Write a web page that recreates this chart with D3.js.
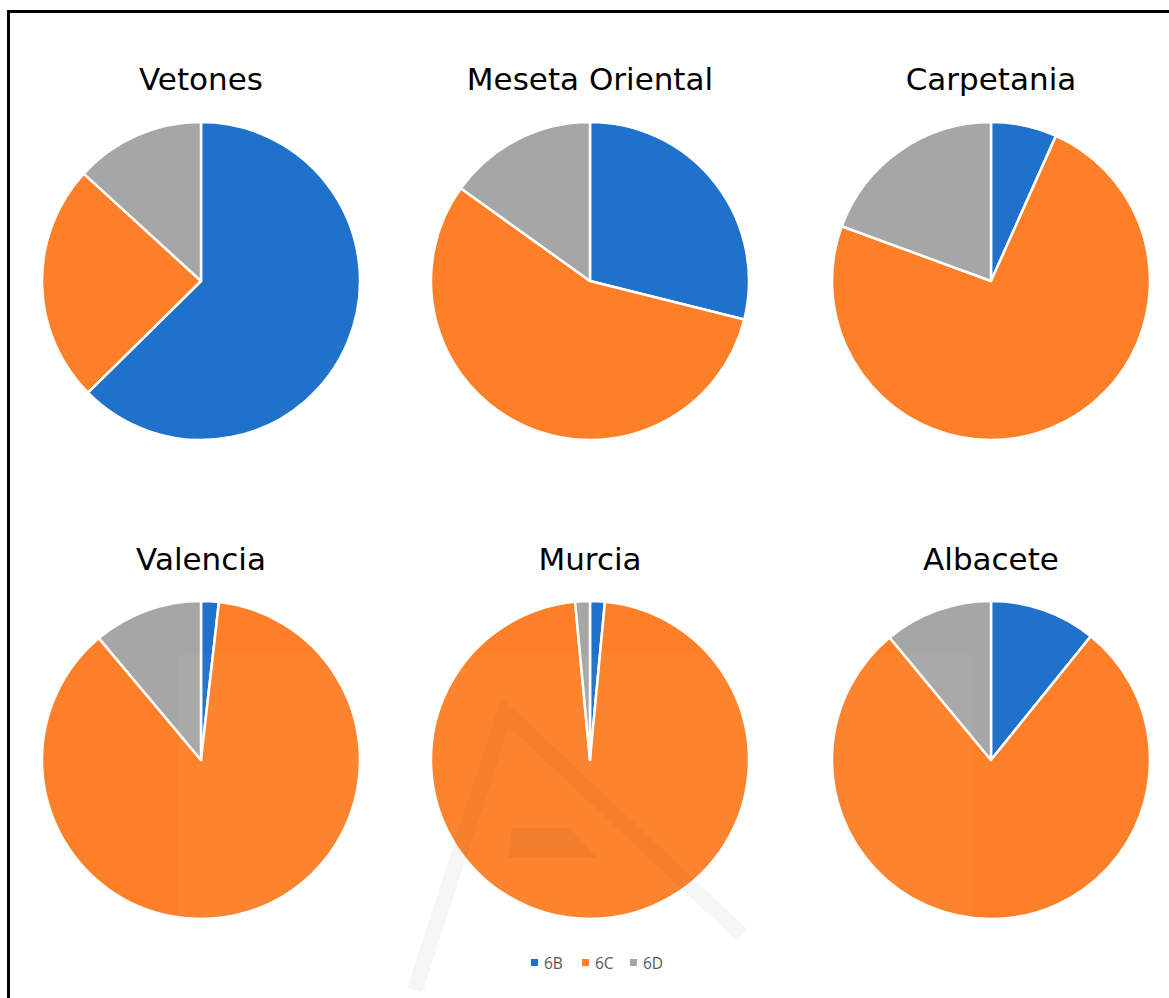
<!DOCTYPE html>
<html>
<head>
<meta charset="utf-8">
<script src="https://cdn.jsdelivr.net/npm/d3@7"></script>
<style>
    body { margin: 0; background: #fff; }
    svg { display: block; }
</style>
</head>
<body>
<div id="chart"></div>
<script>
'use strict';

// data (share of each type, %)
var regions = ['Vetones', 'Meseta Oriental', 'Carpetania', 'Valencia', 'Murcia', 'Albacete'];
var series  = ['6B', '6C', '6D'];
var v6B = [62.6, 28.9,  6.7,  1.8,  1.5, 10.8];
var v6C = [24.2, 56.0, 73.9, 87.1, 97.0, 78.2];
var v6D = [13.2, 15.1, 19.4, 11.1,  1.5, 11.0];

var colors = ['#1f71c9', '#fd7f27', '#a6a6a6'];

function pieCharts()
{
    var scope = this;
    var exports = {};

    scope.w = 1169;
    scope.h = 998;
    scope.radius = 159;
    scope.colX = [201, 590, 991];
    scope.rowY = [281, 760];
    scope.titleY = [90, 570];
    scope.cScale = d3.scaleOrdinal().domain(series).range(colors);

    scope.appendSvg = function(div)
    {
        return d3.select(div).append('svg')
            .attr('width', scope.w)
            .attr('height', scope.h);
    }

    scope.appendPie = function(svg, i)
    {
        var col = i % 3, row = Math.floor(i / 3);
        var vals = [v6B[i], v6C[i], v6D[i]];
        var rows = series.map(function(s, k){ return {key: s, value: vals[k]}; });

        var pie = d3.pie().sort(null).value(function(d){ return d.value; });
        var arc = d3.arc().innerRadius(0).outerRadius(scope.radius);

        var g = svg.append('g')
            .attr('transform', 'translate(' + scope.colX[col] + ',' + scope.rowY[row] + ')');

        g.selectAll('path')
            .data(pie(rows))
            .enter()
            .append('path')
            .attr('d', arc)
            .style('fill', function(d){ return scope.cScale(d.data.key); })
            .style('stroke', '#fff')
            .style('stroke-width', 2.5)
            .style('stroke-linejoin', 'round');

        svg.append('text')
            .attr('x', scope.colX[col])
            .attr('y', scope.titleY[row])
            .attr('text-anchor', 'middle')
            .style('font-family', '"DejaVu Sans", Verdana, sans-serif')
            .style('font-size', '31px')
            .style('fill', '#000')
            .text(regions[i]);
    }

    scope.appendLegend = function(svg)
    {
        var xs = [531, 582, 630];
        var lg = svg.append('g').attr('class', 'legend');
        series.forEach(function(s, k){
            lg.append('rect')
                .attr('x', xs[k]).attr('y', 959)
                .attr('width', 7).attr('height', 7)
                .style('fill', scope.cScale(s));
            lg.append('text')
                .attr('x', xs[k] + 13).attr('y', 969)
                .style('font-family', '"Open Sans", "Noto Sans", sans-serif')
                .style('font-size', '15.5px')
                .style('fill', '#595959')
                .text(s);
        });
    }

    // faint watermark seen over the lower row
    scope.appendWatermark = function(svg)
    {
        var wm = svg.append('g').style('pointer-events', 'none');
        wm.append('rect')
            .attr('x', 178).attr('y', 655)
            .attr('width', 794).attr('height', 330)
            .style('fill', '#fff').style('opacity', 0.04);
        wm.append('path')
            .attr('d', 'M415,990 L505,712 L742,935')
            .style('fill', 'none')
            .style('stroke', '#000')
            .style('stroke-width', 16)
            .style('opacity', 0.035);
        wm.append('path')
            .attr('d', 'M508,858 L512,828 L570,828 L597,858 Z')
            .style('fill', '#000')
            .style('opacity', 0.04);
    }

    exports.run = function(div)
    {
        var svg = scope.appendSvg(div);

        for (var i = 0; i < regions.length; i++) scope.appendPie(svg, i);

        scope.appendWatermark(svg);
        scope.appendLegend(svg);

        // frame (only top and left edges fall inside the picture)
        svg.append('rect')
            .attr('x', 8.5).attr('y', 11.5)
            .attr('width', 1200).attr('height', 1100)
            .style('fill', 'none')
            .style('stroke', '#000')
            .style('stroke-width', 3);
    }

    return exports;
}

new pieCharts().run('#chart');
</script>
</body>
</html>
